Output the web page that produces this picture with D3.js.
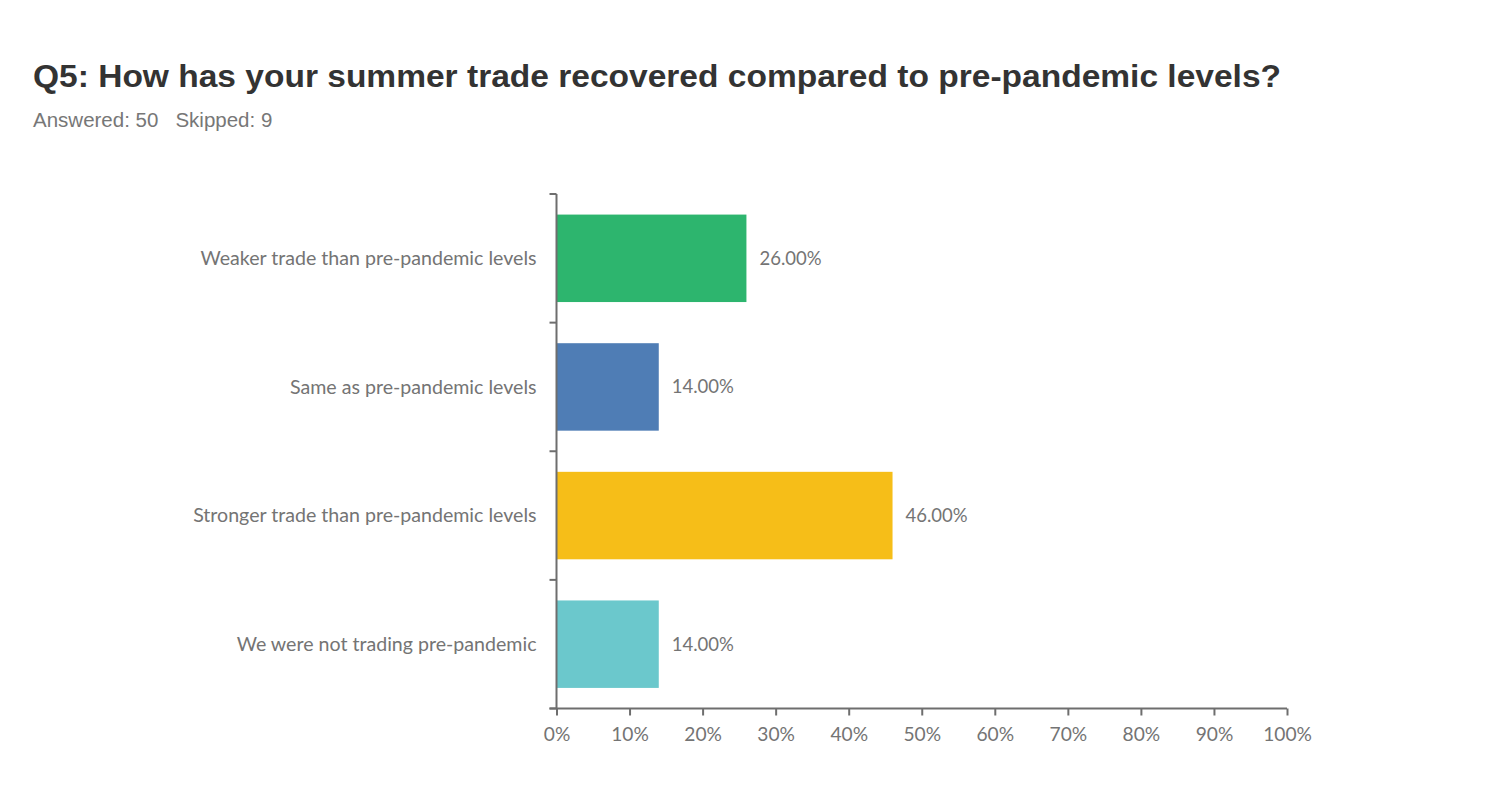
<!DOCTYPE html>
<html><head><meta charset="utf-8">
<script src="https://cdn.jsdelivr.net/npm/d3@7/dist/d3.min.js"></script>
<style>
body{margin:0;background:#fff;}
svg{display:block;}
</style></head>
<body>
<svg id="chart" width="1507" height="800"></svg>
<script>
const categories = [
  "Weaker trade than pre-pandemic levels",
  "Same as pre-pandemic levels",
  "Stronger trade than pre-pandemic levels",
  "We were not trading pre-pandemic"
];
const values = [26, 14, 46, 14];
const colors = ["#2DB56E", "#4F7DB5", "#F6BE18", "#6BC8CC"];
const tickValues = [0,10,20,30,40,50,60,70,80,90,100];
const title = "Q5: How has your summer trade recovered compared to pre-pandemic levels?";
const subtitle = "Answered: 50   Skipped: 9";

(function(){
const svg = d3.select("#chart");
const axisColor = "#6e6e6e";
const textColor = "#747474";
const labelFont = "Lato, 'Open Sans', sans-serif";

svg.append("text").attr("x", 33).attr("y", 87)
  .attr("font-family", "'Liberation Sans', Arial, sans-serif")
  .attr("font-weight", "bold").attr("font-size", 31).attr("fill", "#333")
  .attr("textLength", 1248).attr("lengthAdjust", "spacingAndGlyphs")
  .text(title);
svg.append("text").attr("x", 33).attr("y", 127)
  .attr("font-family", "'Liberation Sans', Arial, sans-serif")
  .attr("font-size", 20.5).attr("fill", "#777")
  .style("white-space","pre")
  .text(subtitle);

const pLeft = 556.5, pRight = 1287, pTop = 194, pBottom = 708.5;
const x = d3.scaleLinear().domain([0,100]).range([pLeft, pRight]);
const y = d3.scaleBand().domain(categories).range([pTop, pBottom]).paddingInner(0.32).paddingOuter(0.16);

const g = svg.append("g");

g.selectAll("rect.bar").data(categories).join("rect")
  .attr("class","bar")
  .attr("x", x(0)+0.5)
  .attr("y", d => y(d))
  .attr("width", (d,i) => x(values[i]) - x(0) - 0.5)
  .attr("height", y.bandwidth())
  .attr("fill", (d,i) => colors[i]);

g.selectAll("text.val").data(categories).join("text")
  .attr("class","val")
  .attr("x", (d,i) => x(values[i]) + 13)
  .attr("y", d => y(d) + y.bandwidth()/2)
  .attr("dy", "0.35em")
  .attr("font-family", labelFont).attr("font-size", 18.5).attr("fill", textColor)
  .text((d,i) => values[i].toFixed(2) + "%");

const yAxisG = g.append("g");
yAxisG.append("line").attr("x1", pLeft).attr("x2", pLeft).attr("y1", pTop).attr("y2", pBottom)
  .attr("stroke", axisColor).attr("stroke-width", 2);
const step = (pBottom - pTop) / categories.length;
d3.range(categories.length + 1).forEach(i => {
  const yy = pTop + i*step;
  yAxisG.append("line").attr("x1", pLeft-7).attr("x2", pLeft).attr("y1", yy).attr("y2", yy)
    .attr("stroke", axisColor).attr("stroke-width", 2);
});
g.selectAll("text.cat").data(categories).join("text")
  .attr("class","cat")
  .attr("x", pLeft - 20)
  .attr("y", d => y(d) + y.bandwidth()/2)
  .attr("dy", "0.35em")
  .attr("text-anchor","end")
  .attr("font-family", labelFont).attr("font-size", 19.6).attr("fill", textColor)
  .text(d => d);

const xAxis = d3.axisBottom(x).tickValues(tickValues).tickFormat(d => d + "%").tickSize(7).tickPadding(12);
const xg = g.append("g").attr("transform", `translate(0,${pBottom})`).call(xAxis);
xg.select(".domain").remove();
xg.append("line").attr("x1", pLeft-7).attr("x2", pRight).attr("y1", 0).attr("y2", 0)
  .attr("stroke", axisColor).attr("stroke-width", 2);
xg.selectAll(".tick line").attr("stroke", axisColor).attr("stroke-width", 2);
xg.selectAll(".tick text").attr("font-family", labelFont).attr("font-size", 19.2).attr("fill", textColor);
})();
</script>
</body></html>
